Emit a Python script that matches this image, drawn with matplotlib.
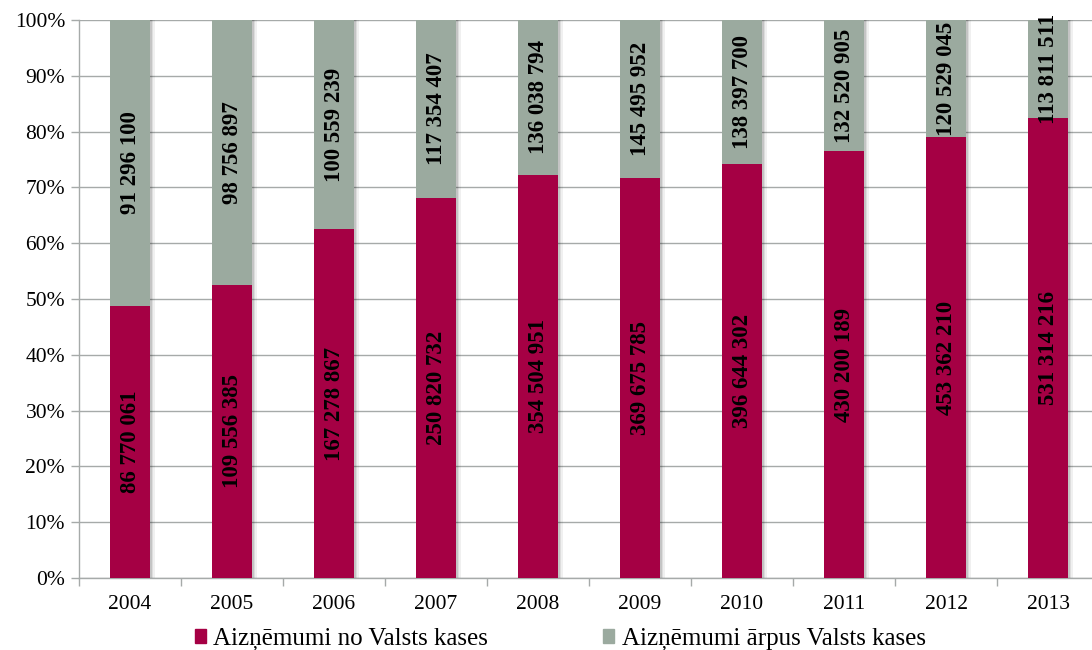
import matplotlib

matplotlib.use("Agg")
import matplotlib.pyplot as plt
import numpy as np
from matplotlib.patches import Patch

years = ["2004", "2005", "2006", "2007", "2008", "2009", "2010", "2011", "2012", "2013"]
no_valsts = [86770061, 109556385, 167278867, 250820732, 354504951,
             369675785, 396644302, 430200189, 453362210, 531314216]
arpus_valsts = [91296100, 98756897, 100559239, 117354407, 136038794,
                145495952, 138397700, 132520905, 120529045, 113811511]
series_names = ["Aizņēmumi no Valsts kases", "Aizņēmumi ārpus Valsts kases"]

COLOR_RED = "#A50044"
COLOR_GREY = "#9BAA9F"
COLOR_GRID = "#A6AAA9"


def fmt(v):
    return f"{v:,}".replace(",", " ")


plt.rcParams["font.family"] = ["Liberation Serif", "DejaVu Serif"]

fig = plt.figure(figsize=(10.92, 6.5), dpi=100)
ax = fig.add_axes([79 / 1092, 1 - 578 / 650, 1020 / 1092, 558 / 650])

a = np.array(no_valsts, dtype=float)
b = np.array(arpus_valsts, dtype=float)
tot = a + b
pa = a / tot * 100
pb = b / tot * 100
x = np.arange(len(years))
w = 0.4

# soft shadow to the right of each bar
for dx, al in [(0.045, 0.06), (0.03, 0.08), (0.015, 0.11)]:
    ax.bar(x + dx, 100, width=w, color="#000000", alpha=al, zorder=2, linewidth=0)

ax.bar(x, pa, width=w, color=COLOR_RED, zorder=3, linewidth=0, label=series_names[0])
ax.bar(x, pb, width=w, bottom=pa, color=COLOR_GREY, zorder=3, linewidth=0,
       label=series_names[1])

for i in range(len(years)):
    ax.text(x[i], pa[i] / 2, fmt(no_valsts[i]), rotation=90, ha="center", va="center",
            fontsize=16.5, fontweight="bold", color="black", zorder=4)
    ax.text(x[i], pa[i] + pb[i] / 2, fmt(arpus_valsts[i]), rotation=90, ha="center",
            va="center", fontsize=16.5, fontweight="bold", color="black", zorder=4)

ax.set_xlim(-0.5, len(years) - 0.5)
ax.set_ylim(0, 100)
ax.set_yticks(np.arange(0, 101, 10))
ax.set_yticklabels([f"{v}%" for v in range(0, 101, 10)], fontsize=15.5)
ax.yaxis.grid(True, color=COLOR_GRID, linewidth=1.0, zorder=0)
ax.set_axisbelow(True)

ax.set_xticks(x)
ax.set_xticklabels(years, fontsize=15.5)
ax.set_xticks(np.arange(-0.5, len(years)), minor=True)
ax.tick_params(axis="x", which="major", length=0, pad=12)
ax.tick_params(axis="x", which="minor", length=6, color=COLOR_GRID, width=1.0)
ax.tick_params(axis="y", length=6, color=COLOR_GRID, width=1.0, pad=4)

for s in ["top", "right"]:
    ax.spines[s].set_visible(False)
for s in ["left", "bottom"]:
    ax.spines[s].set_color(COLOR_GRID)
    ax.spines[s].set_linewidth(1.0)

handles = [Patch(color=COLOR_RED), Patch(color=COLOR_GREY)]
fig.legend(handles, series_names, loc="center", bbox_to_anchor=(0.513, 1 - 639 / 650),
           ncol=2, frameon=False, fontsize=18, handlelength=0.45, handleheight=0.45,
           handletextpad=0.3, columnspacing=4.6, borderaxespad=0)

fig.savefig("out.png", dpi=100, facecolor="white")
